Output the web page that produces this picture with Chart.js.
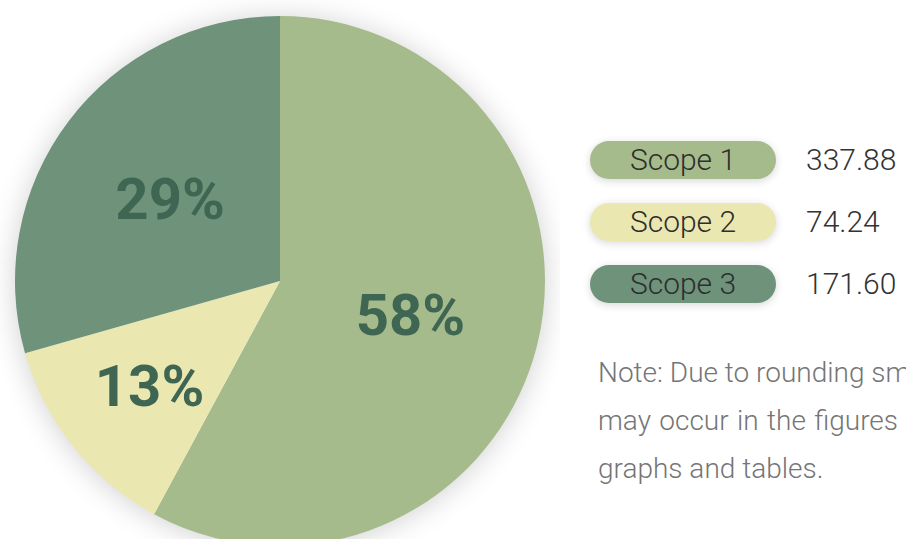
<!DOCTYPE html>
<html>
<head>
<meta charset="utf-8">
<script src="https://cdn.jsdelivr.net/npm/chart.js@4/dist/chart.umd.min.js"></script>
<style>
  html, body { margin:0; padding:0; width:906px; height:539px; overflow:hidden; background:#ffffff; }
  body { position:relative; font-family: Roboto, "Open Sans", sans-serif; }
  #wrap { position:absolute; left:0; top:0; width:560px; height:562px; }
  .legend { position:absolute; left:590px; top:141px; }
  .row { position:absolute; left:0; height:38px; white-space:nowrap; }
  .pill { position:absolute; left:0; top:0; width:186px; height:38px; border-radius:19px;
          box-shadow: 0 2px 8px rgba(0,0,0,0.16);
          font-size:30px; font-weight:300; color:#2e2e2e; line-height:38px; text-align:center; }
  .val { position:absolute; left:216px; top:0; font-size:30px; font-weight:300; color:#333333; line-height:38px; }
  .note { position:absolute; left:598px; top:349px; font-size:28px; font-weight:300; color:#757575;
          line-height:48px; white-space:nowrap; }
  .note div:nth-child(2) { word-spacing: 1.5px; }
</style>
</head>
<body>
<div id="wrap"><canvas id="c"></canvas></div>
<div class="legend" id="legend"></div>
<div class="note" id="note"></div>
<script>
const categories = ["Scope 1", "Scope 2", "Scope 3"];
const values = [337.88, 74.24, 171.60];
const valueLabels = ["337.88", "74.24", "171.60"];
const colors = ["#a5bb8c", "#ebe7b1", "#6e927a"];
const noteLines = ["Note: Due to rounding small differences", "may occur in the figures shown in these", "graphs and tables."];
const labelRadius = [0.508, 0.631, 0.52];

const total = values.reduce((a, b) => a + b, 0);

const shadowPlugin = {
  id: 'pieShadow',
  beforeDatasetsDraw(chart) {
    const arc = chart.getDatasetMeta(0).data[0];
    if (!arc) return;
    const ctx = chart.ctx;
    ctx.save();
    ctx.shadowColor = 'rgba(0,0,0,0.2)';
    ctx.shadowBlur = 30;
    ctx.shadowOffsetY = 2;
    ctx.fillStyle = '#ffffff';
    ctx.beginPath();
    ctx.arc(arc.x, arc.y, arc.outerRadius - 1, 0, Math.PI * 2);
    ctx.fill();
    ctx.restore();
  }
};

const labelPlugin = {
  id: 'pctLabels',
  afterDatasetsDraw(chart) {
    const ctx = chart.ctx;
    const meta = chart.getDatasetMeta(0);
    const size = 58;
    ctx.save();
    ctx.font = 'bold ' + size + 'px Roboto';
    ctx.fillStyle = '#3f6653';
    ctx.textAlign = 'center';
    ctx.textBaseline = 'alphabetic';
    meta.data.forEach((arc, i) => {
      const mid = (arc.startAngle + arc.endAngle) / 2;
      const r = arc.outerRadius * labelRadius[i];
      const x = arc.x + Math.cos(mid) * r;
      const y = arc.y + Math.sin(mid) * r;
      const pct = Math.round(values[i] / total * 100) + '%';
      ctx.fillText(pct, x, y + size * 0.711 / 2);
    });
    ctx.restore();
  }
};

new Chart(document.getElementById('c'), {
  type: 'pie',
  data: {
    labels: categories,
    datasets: [{ data: values, backgroundColor: colors, borderWidth: 0, hoverOffset: 0 }]
  },
  options: {
    responsive: true,
    maintainAspectRatio: false,
    animation: false,
    layout: { padding: { left: 15, right: 15, top: 16, bottom: 16 } },
    plugins: { legend: { display: false }, tooltip: { enabled: false } }
  },
  plugins: [shadowPlugin, labelPlugin]
});

const legend = document.getElementById('legend');
categories.forEach((c, i) => {
  const row = document.createElement('div');
  row.className = 'row';
  row.style.top = (i * 62) + 'px';
  const pill = document.createElement('div');
  pill.className = 'pill';
  pill.style.background = colors[i];
  pill.textContent = c;
  const val = document.createElement('div');
  val.className = 'val';
  val.textContent = valueLabels[i];
  row.appendChild(pill);
  row.appendChild(val);
  legend.appendChild(row);
});
document.getElementById('note').innerHTML = noteLines.map(l => '<div>' + l + '</div>').join('');
</script>
</body>
</html>
